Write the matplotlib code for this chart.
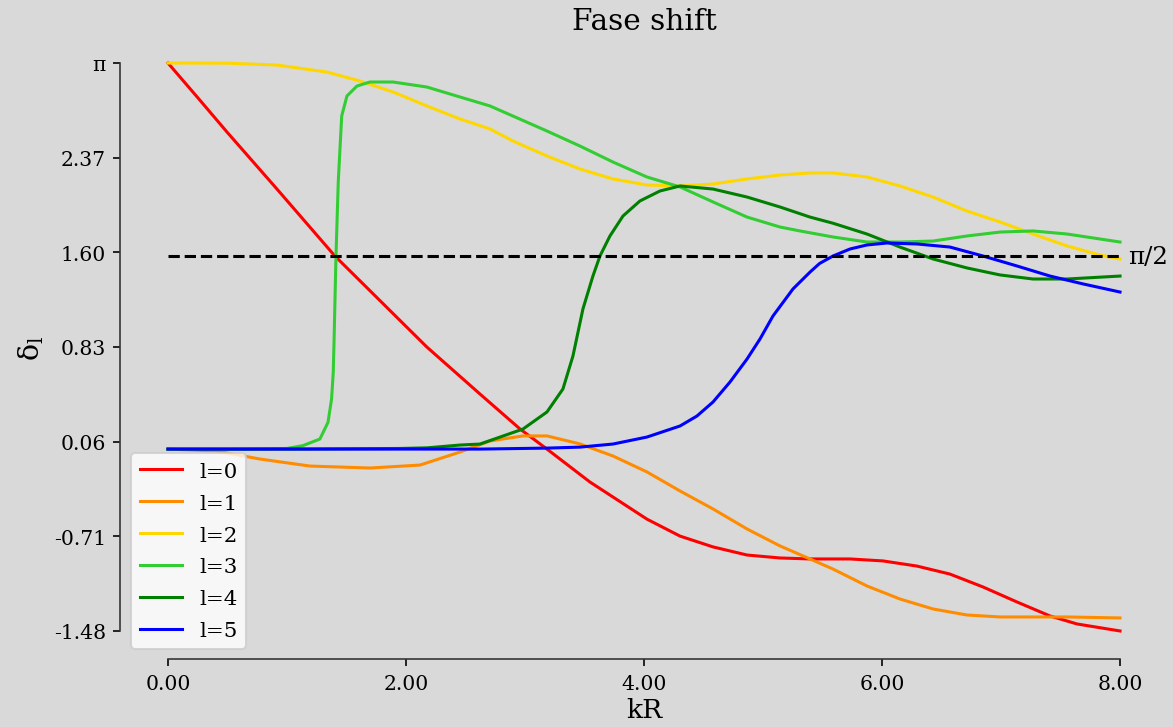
import numpy as np
import matplotlib
matplotlib.use("Agg")
import matplotlib.pyplot as plt

plt.rcParams["font.family"] = "serif"
plt.rcParams["mathtext.fontset"] = "dejavuserif"
plt.rcParams["mathtext.default"] = "regular"

# phase shifts, one (x, y) list per l
x_l0 = [0.0, 0.25, 0.496, 0.916, 1.403, 2.176, 2.622, 2.958, 3.185, 3.546, 4.025,
        4.303, 4.580, 4.866, 5.143, 5.395, 5.731, 6.008, 6.294, 6.571, 6.849,
        7.134, 7.412, 7.639, 8.0]
y_l0 = [np.pi, 2.86, 2.58, 2.116, 1.571, 0.830, 0.448, 0.164, 0.0, -0.268, -0.570,
        -0.708, -0.796, -0.862, -0.886, -0.894, -0.894, -0.91, -0.952, -1.017,
        -1.122, -1.244, -1.358, -1.423, -1.48]

x_l1 = [0.0, 0.412, 0.773, 1.193, 1.697, 2.118, 2.454, 2.706, 2.983, 3.185, 3.462,
        3.739, 4.025, 4.303, 4.580, 4.866, 5.143, 5.395, 5.588, 5.874, 6.151,
        6.429, 6.714, 6.992, 7.269, 7.555, 8.0]
y_l1 = [0.0, -0.016, -0.081, -0.138, -0.154, -0.13, -0.024, 0.066, 0.107, 0.107,
        0.042, -0.056, -0.186, -0.341, -0.487, -0.65, -0.788, -0.894, -0.976,
        -1.114, -1.22, -1.301, -1.35, -1.366, -1.366, -1.366, -1.374]

x_l2 = [0.0, 0.496, 0.916, 1.336, 1.613, 1.891, 2.176, 2.454, 2.706, 2.899, 3.185,
        3.462, 3.739, 4.025, 4.303, 4.580, 4.866, 5.143, 5.395, 5.588, 5.874,
        6.151, 6.429, 6.714, 6.992, 7.269, 7.555, 7.832, 8.0]
y_l2 = [np.pi, 3.14, 3.125, 3.068, 2.995, 2.906, 2.792, 2.686, 2.605, 2.507, 2.385,
        2.279, 2.198, 2.149, 2.141, 2.157, 2.198, 2.230, 2.247, 2.247, 2.214,
        2.141, 2.051, 1.937, 1.848, 1.750, 1.653, 1.579, 1.547]

x_l3 = [0.0, 0.5, 1.0, 1.134, 1.277, 1.345, 1.375, 1.389, 1.395, 1.412, 1.431,
        1.460, 1.504, 1.588, 1.697, 1.891, 2.176, 2.454, 2.706, 2.899, 3.185,
        3.462, 3.739, 4.025, 4.303, 4.580, 4.866, 5.143, 5.311, 5.588, 5.874,
        6.151, 6.429, 6.714, 6.992, 7.269, 7.555, 8.0]
y_l3 = [0.0, 0.0, 0.005, 0.028, 0.082, 0.218, 0.408, 0.625, 0.85, 1.571, 2.173,
        2.71, 2.873, 2.954, 2.987, 2.987, 2.946, 2.865, 2.792, 2.71, 2.588,
        2.466, 2.336, 2.214, 2.133, 2.011, 1.888, 1.807, 1.775, 1.726, 1.685,
        1.685, 1.693, 1.734, 1.766, 1.775, 1.75, 1.685]

x_l4 = [0.0, 1.0, 1.95, 2.176, 2.454, 2.622, 2.983, 3.185, 3.319, 3.403, 3.487,
        3.571, 3.630, 3.714, 3.824, 3.966, 4.134, 4.303, 4.580, 4.866, 5.143,
        5.395, 5.588, 5.874, 6.151, 6.429, 6.714, 6.992, 7.269, 7.555, 8.0]
y_l4 = [0.0, 0.0, 0.005, 0.01, 0.033, 0.041, 0.163, 0.302, 0.489, 0.757, 1.14,
        1.408, 1.571, 1.734, 1.897, 2.019, 2.1, 2.141, 2.116, 2.051, 1.97,
        1.888, 1.838, 1.75, 1.644, 1.547, 1.474, 1.417, 1.384, 1.384, 1.408]

x_l5 = [0.0, 1.0, 2.0, 2.622, 3.185, 3.462, 3.739, 4.025, 4.303, 4.445, 4.580,
        4.723, 4.866, 4.975, 5.084, 5.252, 5.395, 5.475, 5.588, 5.731, 5.874,
        6.042, 6.294, 6.571, 6.849, 7.134, 7.412, 7.689, 8.0]
y_l5 = [0.0, 0.0, 0.0, 0.0, 0.008, 0.016, 0.041, 0.098, 0.188, 0.269, 0.383,
        0.546, 0.733, 0.896, 1.083, 1.303, 1.44, 1.51, 1.571, 1.628, 1.661,
        1.677, 1.669, 1.644, 1.571, 1.49, 1.408, 1.344, 1.278]

curves = [(x_l0, y_l0), (x_l1, y_l1), (x_l2, y_l2),
          (x_l3, y_l3), (x_l4, y_l4), (x_l5, y_l5)]
labels = ["l=0", "l=1", "l=2", "l=3", "l=4", "l=5"]
colors = ["red", "darkorange", "gold", "limegreen", "green", "blue"]
x_ticks = [0, 2, 4, 6, 8]

fig = plt.figure(figsize=(8, 4.965), dpi=146.625, facecolor="#d9d9d9")
ax = fig.add_axes([0.1026, 0.0929, 0.8928, 0.8582])
ax.set_facecolor("#d9d9d9")

for (xs, ys), lab, col in zip(curves, labels, colors):
    ax.plot(xs, ys, color=col, label=lab, lw=1.5)

ax.hlines(np.pi / 2, 0, 8, colors="black", linestyles="--", lw=1.5)
ax.text(8.07, np.pi / 2, "π/2", fontsize=12, va="center", ha="left")

y_min = min(min(ys) for _, ys in curves)
y_ticks = np.linspace(y_min, np.pi, 7)
ax.set_yticks(y_ticks)
ax.set_yticklabels([f"{v:.2f}" for v in y_ticks[:-1]] + ["π"])
ax.set_xticks(x_ticks)
ax.set_xticklabels([f"{v:.2f}" for v in x_ticks])

ax.spines["top"].set_visible(False)
ax.spines["right"].set_visible(False)
ax.spines["left"].set_bounds(y_min, np.pi)
ax.spines["bottom"].set_bounds(0, 8)
for s in ("left", "bottom"):
    ax.spines[s].set_color("#333333")

ax.set_title("Fase shift", fontsize=14.5, pad=1.5)
ax.set_xlabel("kR", fontsize=13, labelpad=2)
ax.set_ylabel("δ$_\\mathrm{l}$", fontsize=14)
ax.legend(loc="lower left", fontsize=10.5, labelspacing=0.6)

fig.savefig("out.png", dpi=146.625, facecolor=fig.get_facecolor())
